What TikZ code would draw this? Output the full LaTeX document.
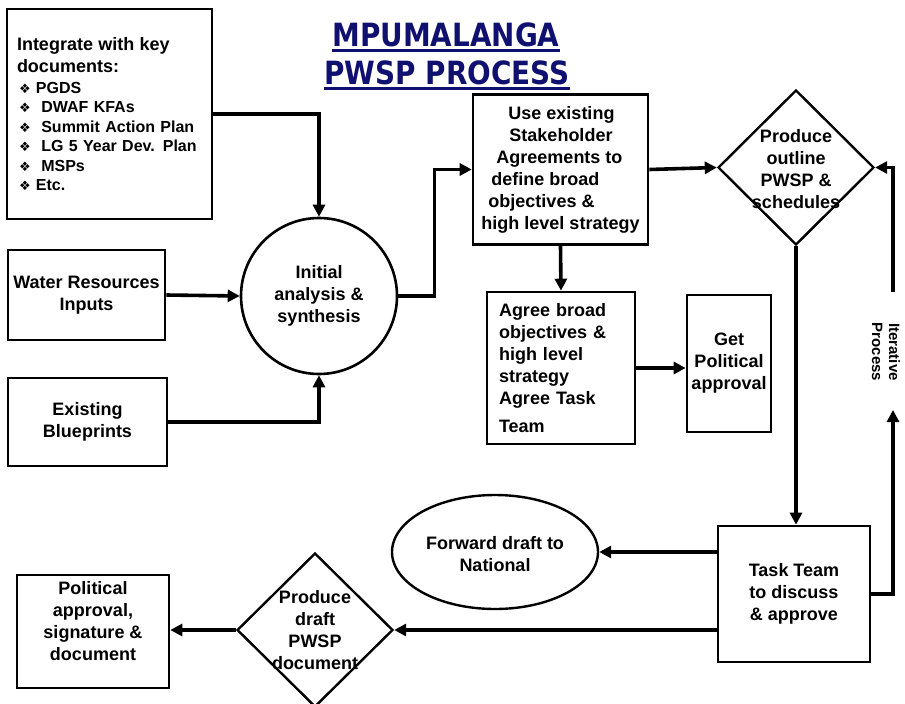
\documentclass[tikz,border=0pt]{standalone}
\usepackage{fontspec}
\setmainfont{Liberation Sans}
\newfontfamily\titlefont[FakeStretch=0.87]{DejaVu Sans}
\newfontfamily\symfont{DejaVu Sans}
\usetikzlibrary{arrows.meta,shapes.geometric}
\definecolor{navyc}{RGB}{16,16,112}
\newcommand\bul{\hspace*{2pt}{\symfont\mdseries\fontsize{13}{13}\selectfont ❖}}
\begin{document}
\begin{tikzpicture}[x=1pt,y=-1pt,
  txt/.style={font=\bfseries\fontsize{18}{22}\selectfont, align=center, inner sep=0pt},
  box/.style={txt, draw, line width=2.6pt},
  shp/.style={draw, line width=2.4pt, inner sep=0pt},
  conn/.style={line width=3.6pt, -{Triangle[length=12pt,width=12pt]}},
  ttl/.style={font=\titlefont\bfseries\fontsize{32}{36}\selectfont, text=navyc, inner sep=0pt}]
\useasboundingbox (0,0) rectangle (905,704);
\clip (0,0) rectangle (905,704);
\fill[white] (0,0) rectangle (905,704);

% title
\node[ttl] (t1) at (446,35) {MPUMALANGA};
\node[ttl] (t2) at (447,73) {PWSP PROCESS};
\draw[navyc, line width=2.6pt] ([yshift=-4pt]t1.base west) -- ([yshift=-4pt]t1.base east);
\draw[navyc, line width=2.6pt] ([yshift=-4pt]t2.base west) -- ([yshift=-4pt]t2.base east);

% nodes
\node[box, minimum width=205pt, minimum height=210pt, text width=185pt, align=left,
      font=\bfseries\fontsize{16}{19.4}\selectfont] (doc) at (109.5,114)
  {{\fontsize{18}{22}\selectfont Integrate with key}\\[2.6pt]
   {\fontsize{18}{22}\selectfont documents:}\\[1.6pt]
   \bul\ PGDS\\
   \bul\ \ DWAF KFAs\\
   \bul\ \ Summit Action Plan\\
   \bul\ \ LG 5 Year Dev. Plan\\
   \bul\ \ MSPs\\
   \bul\ Etc.};
\node[box, minimum width=157pt, minimum height=90pt] (water) at (86.5,295) {Water Resources\\Inputs};
\node[box, minimum width=159pt, minimum height=88pt] (blue) at (87.5,422) {Existing\\Blueprints};
\node[box, circle, minimum size=156pt] (circ) at (319,296) {Initial\\analysis \&\\synthesis};
\node[box, minimum width=175pt, minimum height=150pt, align=left] (use) at (560.5,169.5)
  {\hspace*{27pt}Use existing\\
   \hspace*{28pt}Stakeholder\\
   \hspace*{15pt}Agreements to\\
   \hspace*{10pt}define broad\\
   \hspace*{7pt}objectives \&\\
   high level strategy};
\node[shp, diamond, aspect=1, minimum width=156pt, minimum height=155pt] (d1) at (796,167.5) {};
\node[txt] (d1t) at (796,169) {Produce\\outline\\PWSP \&\\schedules};
\node[box, minimum width=148pt, minimum height=152pt, text width=124pt, align=left] (agree) at (561,368)
  {Agree broad\\objectives \&\\high level\\strategy\\Agree Task\\[6pt]Team};
\node[box, minimum width=84pt, minimum height=137pt] (getpol) at (729,363.5) {Get\\Political\\approval};
\node[box, minimum width=152pt, minimum height=136pt] (task) at (794,594) {Task Team\\to discuss\\\& approve};
\node[shp, ellipse, minimum width=206pt, minimum height=114pt] (fwd) at (495,552) {};
\node[txt] (fwdt) at (495,554) {Forward draft to\\National};
\node[shp, diamond, aspect=1, minimum width=156pt, minimum height=154pt] (d2) at (315,630) {};
\node[txt] (d2t) at (315,630) {Produce\\draft\\PWSP\\document};
\node[box, minimum width=152pt, minimum height=113pt] (pol) at (93,631.5) {};
\node[txt] (polt) at (93,621) {Political\\approval,\\signature \&\\document};
\node[font=\bfseries\fontsize{15}{17}\selectfont, align=center, inner sep=0pt, rotate=-90] (iter) at (886,352) {Iterative\\Process};

\coordinate (itb) at (893,410);
\coordinate (itt) at (893,292);

% connectors
\draw[conn] (doc.east) -| (circ.north);
\draw[conn] (water.east) -- (circ.west);
\draw[conn] (blue.east) -| (circ.south);
\draw[conn] (circ.east) -- ++(36,0) |- (use.west);
\draw[conn] (use.east) -- (d1.west);
\draw[conn] (use.south) -- (agree.north);
\draw[conn] (agree.east) -- (agree.east -| getpol.west);
\draw[conn] (d1.south) -- (d1.south |- task.north);
\draw[conn] (task.east) -| (itb);
\draw[conn] (itt) |- (d1.east);
\draw[conn] (task.west |- fwd.east) -- (fwd.east);
\draw[conn] (task.west |- d2.east) -- (d2.east);
\draw[conn] (d2.west) -- (pol.east |- d2.west);
\end{tikzpicture}
\end{document}
